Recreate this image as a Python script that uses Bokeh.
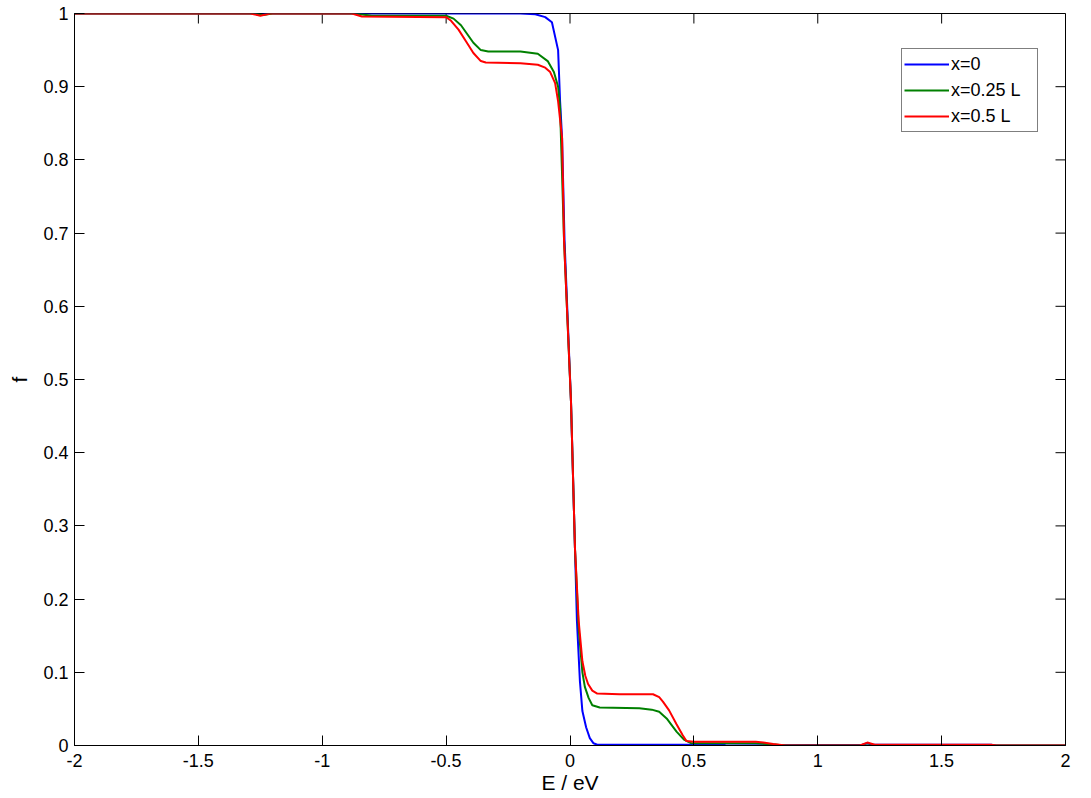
import math
from bokeh.plotting import figure
from bokeh.models import FixedTicker, Legend, LegendItem, Range1d
from bokeh.embed import file_html
from bokeh.resources import INLINE

# ---- data ----
E_x0 = [-2, -1.28, -1.25, -1.22, -0.2, -0.14, -0.1, -0.073, -0.048, -0.04, -0.032, -0.022,
        0.004, 0.02, 0.028, 0.04, 0.05, 0.065, 0.08, 0.095, 0.11, 0.62, 0.63,
        1.18, 1.2, 1.22, 1.7, 1.72, 2]
f_x0 = [1, 1, 0.998, 1, 1, 0.999, 0.995, 0.988, 0.95, 0.88, 0.83, 0.69,
        0.47, 0.27, 0.17, 0.088, 0.047, 0.025, 0.01, 0.003, 0.001, 0.001, 0,
        0.001, 0.003, 0.001, 0.001, 0, 0]

E_x025 = [-2, -1.28, -1.24, -1.2, -0.87, -0.8, -0.5, -0.47, -0.44, -0.415, -0.39, -0.36,
          -0.33, -0.2, -0.13, -0.09, -0.065, -0.048, -0.04, -0.024, 0.004, 0.02, 0.035,
          0.05, 0.06, 0.075, 0.09, 0.12, 0.28, 0.33, 0.36, 0.39, 0.43, 0.46, 0.49,
          0.75, 0.8, 0.87, 2]
f_x025 = [1, 1, 0.998, 1, 1, 0.997, 0.997, 0.993, 0.984, 0.972, 0.96, 0.95,
          0.948, 0.948, 0.945, 0.935, 0.92, 0.9, 0.87, 0.69, 0.47, 0.27, 0.16,
          0.1, 0.08, 0.065, 0.055, 0.052, 0.051, 0.049, 0.046, 0.037, 0.019, 0.008, 0.003,
          0.003, 0.002, 0, 0]

E_x05 = [-2, -1.29, -1.25, -1.21, -0.88, -0.84, -0.5, -0.48, -0.45, -0.42, -0.39, -0.36,
         -0.34, -0.2, -0.13, -0.1, -0.08, -0.06, -0.048, -0.032, -0.024, 0.004, 0.02,
         0.035, 0.05, 0.062, 0.073, 0.09, 0.11, 0.2, 0.335, 0.36, 0.375, 0.4, 0.43,
         0.455, 0.47, 0.5, 0.75, 0.78, 0.82, 0.87, 1.17, 1.2, 1.23, 1.7, 1.72, 2]
f_x05 = [1, 1, 0.997, 1, 1, 0.996, 0.995, 0.99, 0.978, 0.962, 0.946, 0.935,
         0.933, 0.932, 0.93, 0.926, 0.92, 0.905, 0.88, 0.83, 0.69, 0.47, 0.27,
         0.17, 0.115, 0.095, 0.084, 0.075, 0.071, 0.07, 0.07, 0.066, 0.06, 0.048, 0.029,
         0.014, 0.006, 0.005, 0.005, 0.004, 0.002, 0, 0, 0.004, 0.001, 0.001, 0, 0]

series_labels = ["x=0", "x=0.25 L", "x=0.5 L"]
series_colors = ["#0000ff", "#008000", "#ff0000"]

x_ticks = [-2, -1.5, -1, -0.5, 0, 0.5, 1, 1.5, 2]
x_tick_labels = ["-2", "-1.5", "-1", "-0.5", "0", "0.5", "1", "1.5", "2"]
y_ticks = [0, 0.1, 0.2, 0.3, 0.4, 0.5, 0.6, 0.7, 0.8, 0.9, 1]
y_tick_labels = ["0", "0.1", "0.2", "0.3", "0.4", "0.5", "0.6", "0.7", "0.8", "0.9", "1"]

FONT = "Liberation Sans"
X_MIN, X_MAX, Y_MIN, Y_MAX = -2, 2, 0, 1

p = figure(frame_width=991, frame_height=732, output_backend="svg", toolbar_location=None,
           x_range=Range1d(X_MIN, X_MAX), y_range=Range1d(Y_MIN, Y_MAX),
           min_border_left=74, min_border_right=26, min_border_top=13, min_border_bottom=53,
           x_axis_label="E / eV", y_axis_label="f")
p.background_fill_color = "white"
p.border_fill_color = "white"
p.outline_line_color = "black"
p.outline_line_width = 1
p.xgrid.visible = False
p.ygrid.visible = False

def style_axis(ax, ticks, labels):
    ax.ticker = FixedTicker(ticks=ticks)
    ax.major_label_overrides = dict(zip(ticks, labels))
    ax.major_tick_in = 10
    ax.major_tick_out = 0
    ax.minor_tick_line_color = None
    ax.axis_line_color = "black"
    ax.major_tick_line_color = "black"
    ax.major_label_text_font = FONT
    ax.major_label_text_color = "black"
    ax.major_label_text_font_size = "18px"
    ax.axis_label_text_font = FONT
    ax.axis_label_text_font_style = "normal"
    ax.axis_label_text_color = "black"
    ax.axis_label_text_font_size = "21px"

style_axis(p.xaxis[0], x_ticks, x_tick_labels)
style_axis(p.yaxis[0], y_ticks, y_tick_labels)
p.xaxis[0].major_label_standoff = 8
p.xaxis[0].axis_label_standoff = 1
p.yaxis[0].major_label_standoff = 6
p.yaxis[0].axis_label_standoff = 9

# inward tick marks on the top and right edges of the box (MATLAB style)
p.ray(x=x_ticks, y=[Y_MAX] * len(x_ticks), length=10, length_units="screen",
      angle=-math.pi / 2, line_color="black", line_width=1)
p.ray(x=[X_MAX] * len(y_ticks), y=y_ticks, length=10, length_units="screen",
      angle=math.pi, line_color="black", line_width=1)

renderers = []
for E, f, c in zip([E_x0, E_x025, E_x05], [f_x0, f_x025, f_x05], series_colors):
    renderers.append(p.line(E, f, line_color=c, line_width=2))

legend = Legend(items=[LegendItem(label=l, renderers=[r]) for l, r in zip(series_labels, renderers)],
                location=(827, 613))
legend.border_line_color = "black"
legend.border_line_width = 1
legend.background_fill_color = "white"
legend.background_fill_alpha = 1
legend.label_text_font = FONT
legend.label_text_font_size = "18px"
legend.label_text_color = "black"
legend.glyph_width = 45
legend.glyph_height = 26
legend.label_height = 26
legend.label_width = 84
legend.label_standoff = 2
legend.spacing = 0
legend.padding = 2
legend.margin = 0
p.add_layout(legend)

open("out.html", "w").write(file_html(p, INLINE))
